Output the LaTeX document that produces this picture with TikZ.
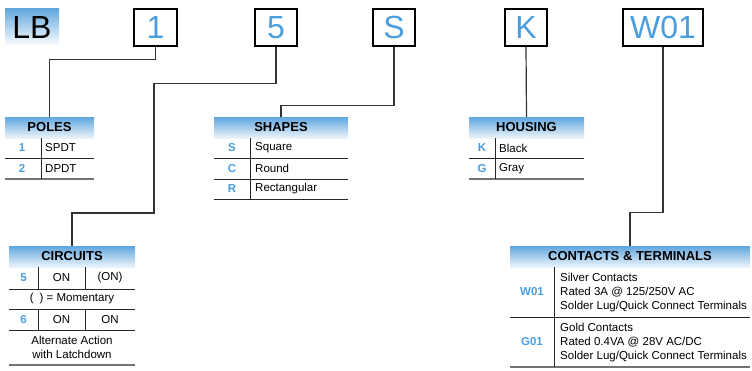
\documentclass[tikz,border=0pt]{standalone}
\usepackage{fontspec}
\setmainfont{Liberation Sans}
\usetikzlibrary{positioning}
\definecolor{codeblue}{RGB}{74,158,222}
\definecolor{headtop}{RGB}{96,166,222}
\definecolor{headbot}{RGB}{236,244,251}
\tikzset{
  codebox/.style={draw,line width=1.3pt,minimum height=37pt,inner sep=0pt,
    font=\fontsize{32}{32}\selectfont,text=codeblue},
  headbar/.style={top color=headtop,bottom color=headbot,minimum height=21pt,
    inner sep=0pt,font=\fontsize{13}{13}\selectfont\bfseries},
  code/.style={text=codeblue,inner sep=0pt,font=\fontsize{11.5}{13}\selectfont\bfseries},
  item/.style={anchor=west,inner sep=0pt,font=\fontsize{11.5}{14}\selectfont},
  rule/.style={line width=0.9pt,black!85},
  endrule/.style={line width=1.8pt,black!55},
  link/.style={line width=1.2pt,black!80}
}

\begin{document}
\begin{tikzpicture}[x=1pt,y=-1pt]
\useasboundingbox (0,0) rectangle (752,370);

% Part number boxes
\node[top color=headtop,bottom color=white,minimum width=54pt,minimum height=38pt,
  inner sep=0pt,font=\fontsize{32}{32}\selectfont] (lb) at (32,27) {LB};
\node[codebox,minimum width=43pt] (pole) at (155.5,27.5) {1};
\node[codebox,minimum width=42pt] (circ) at (276,27.5) {5};
\node[codebox,minimum width=42pt] (shape) at (394,27.5) {S};
\node[codebox,minimum width=42pt] (house) at (526,27.5) {K};
\node[codebox,minimum width=80pt] (cont) at (663,27.5) {W01};

% Poles table
\node[headbar,minimum width=89pt] (poles) at (49.5,127.5) {POLES};
\draw[rule] (5,158) -- (94,158);
\draw[endrule] (5,179) -- (94,179);
\draw[rule] (41,138) -- (41,179);
\node[code] (p1) at (22,148) {1};
\node[item] (p1t) at (45,148) {SPDT};
\node[code] (p2) at (22,168.5) {2};
\node[item] (p2t) at (45,168.5) {DPDT};

% Shapes table
\node[headbar,minimum width=134pt] (shapes) at (281,127.5) {SHAPES};
\draw[rule] (214,158) -- (348,158);
\draw[rule] (214,179) -- (348,179);
\draw[rule] (214,199) -- (348,199);
\draw[rule] (250,138) -- (250,199);
\node[code] (s1) at (232,148) {S};
\node[item] (s1t) at (255,148) {Square};
\node[code] (s2) at (232,168.5) {C};
\node[item] (s2t) at (255,168.5) {Round};
\node[code] (s3) at (232,189) {R};
\node[item] (s3t) at (255,189) {Rectangular};

% Housing table
\node[headbar,minimum width=115pt] (housing) at (526.5,127.5) {HOUSING};
\draw[rule] (469,158) -- (584,158);
\draw[endrule] (469,179) -- (584,179);
\draw[rule] (495,138) -- (495,179);
\node[code] (h1) at (482,148) {K};
\node[item] (h1t) at (499,148) {Black};
\node[code] (h2) at (482,168.5) {G};
\node[item] (h2t) at (499,168.5) {Gray};

% Circuits table
\node[headbar,minimum width=126pt] (circuits) at (72,256.5) {CIRCUITS};
\draw[rule] (9,289) -- (135,289);
\draw[rule] (9,309) -- (135,309);
\draw[rule] (9,330) -- (135,330);
\draw[endrule] (9,365) -- (135,365);
\draw[rule] (38,267) -- (38,289) (85,267) -- (85,289);
\draw[rule] (38,309) -- (38,330) (85,309) -- (85,330);
\node[code] (c1) at (23.5,278) {5};
\node[item,anchor=center] (c1a) at (61.5,278) {ON};
\node[item,anchor=center] (c1b) at (110,278) {(ON)};
\node[item,anchor=center] (cm) at (72,299) {(\hspace{6pt}) = Momentary};
\node[code] (c2) at (23.5,319.5) {6};
\node[item,anchor=center] (c2a) at (61.5,319.5) {ON};
\node[item,anchor=center] (c2b) at (110,319.5) {ON};
\node[item,anchor=center,align=center] (calt) at (72,347.5) {Alternate Action\\with Latchdown};

% Contacts table
\node[headbar,minimum width=240pt] (contacts) at (630,256.5) {CONTACTS \& TERMINALS};
\draw[rule] (510,317) -- (750,317);
\draw[endrule] (510,367) -- (750,367);
\draw[rule] (554,267) -- (554,367);
\node[code] (t1) at (532,292) {W01};
\node[item,align=left] (t1t) at (560,292.5) {Silver Contacts\\Rated 3A @ 125/250V AC\\Solder Lug/Quick Connect Terminals};
\node[code] (t2) at (532,342) {G01};
\node[item,align=left] (t2t) at (560,342.5) {Gold Contacts\\Rated 0.4VA @ 28V AC/DC\\Solder Lug/Quick Connect Terminals};

% Connectors
\draw[link] (pole.south) -- ++(0,13) -| (poles.north);
\draw[link] (circ.south) -- ++(0,37) -| (154,213) -| (circuits.north);
\draw[link] (shape.south) -- ++(0,59) -| (shapes.north);
\draw[link] (house.south) -- (housing.north);
\draw[link] (cont.south) -- ++(0,166) -| (contacts.north);
\end{tikzpicture}
\end{document}
